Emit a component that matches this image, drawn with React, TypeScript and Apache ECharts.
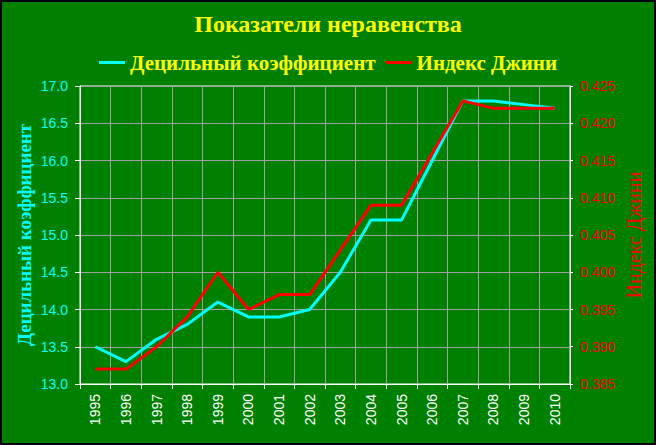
import React, { useEffect, useRef } from "react";
import * as echarts from "echarts";

const years = ["1995","1996","1997","1998","1999","2000","2001","2002","2003","2004","2005","2006","2007","2008","2009","2010"];
const decile = [13.5, 13.3, 13.6, 13.8, 14.1, 13.9, 13.9, 14.0, 14.5, 15.2, 15.2, 16.0, 16.8, 16.8, 16.75, 16.7];
const gini = [0.387, 0.387, 0.390, 0.394, 0.400, 0.395, 0.397, 0.397, 0.403, 0.409, 0.409, 0.416, 0.423, 0.422, 0.422, 0.422];

const titleText = "Показатели неравенства";
const decileName = "Децильный коэффициент";
const giniName = "Индекс Джини";

export default function App() {
  const ref = useRef<HTMLDivElement>(null);
  useEffect(() => {
    if (!ref.current) return;
    const chart = echarts.init(ref.current, undefined, { renderer: "svg" });
    const serif = "'Liberation Serif', 'DejaVu Serif', serif";
    const sans = "'Liberation Sans', Arial, sans-serif";
    chart.setOption({
      animation: false,
      backgroundColor: "#008000",
      title: {
        text: titleText,
        left: "center",
        top: 5,
        textStyle: { color: "#ffff00", fontFamily: serif, fontWeight: "bold", fontSize: 24 },
      },
      legend: {
        top: 45,
        left: "center",
        itemWidth: 26,
        itemHeight: 3,
        itemGap: 10,
        icon: "rect",
        textStyle: { color: "#ffff00", fontFamily: serif, fontWeight: "bold", fontSize: 21 },
        data: [
          { name: decileName, itemStyle: { color: "#00ffff" } },
          { name: giniName, itemStyle: { color: "#ff0000" } },
        ],
      },
      grid: {
        left: 78,
        right: 84,
        top: 84,
        bottom: 59,
        show: true,
        borderColor: "#ffffff",
        borderWidth: 1,
        backgroundColor: "transparent",
      },
      xAxis: {
        type: "category",
        data: years,
        boundaryGap: true,
        axisLine: { lineStyle: { color: "#ffffff", width: 1 } },
        axisTick: { show: true, length: 5, lineStyle: { color: "#ffffff" } },
        axisLabel: { color: "#ffffff", rotate: 90, fontFamily: sans, fontSize: 14, margin: 10 },
        splitLine: { show: true, lineStyle: { color: "#a0a0a0", width: 1 } },
      },
      yAxis: [
        {
          type: "value",
          min: 13,
          max: 17,
          interval: 0.5,
          position: "left",
          name: decileName,
          nameLocation: "middle",
          nameRotate: 90,
          nameGap: 46,
          nameMoveOverlap: false,
          nameTextStyle: { color: "#00ffff", fontFamily: serif, fontWeight: "bold", fontSize: 19 },
          axisLine: { show: true, lineStyle: { color: "#ffffff" } },
          axisTick: { show: true, length: 5, lineStyle: { color: "#ffffff" } },
          axisLabel: { color: "#00ffff", fontFamily: sans, fontSize: 14, margin: 12, formatter: (v: number) => v.toFixed(1) },
          splitLine: { show: true, lineStyle: { color: "#a0a0a0", width: 1 } },
        },
        {
          type: "value",
          min: 0.385,
          max: 0.425,
          interval: 0.005,
          position: "right",
          name: giniName,
          nameLocation: "middle",
          nameRotate: 90,
          nameGap: 54,
          nameMoveOverlap: false,
          nameTextStyle: { color: "#ff0000", fontFamily: serif, fontWeight: "normal", fontSize: 20 },
          axisLine: { show: true, lineStyle: { color: "#ffffff" } },
          axisTick: { show: true, length: 3, lineStyle: { color: "#ffffff" } },
          axisLabel: { color: "#ff0000", fontFamily: sans, fontSize: 14, margin: 10, formatter: (v: number) => v.toFixed(3) },
          splitLine: { show: false },
        },
      ],
      series: [
        {
          name: decileName,
          type: "line",
          yAxisIndex: 0,
          data: decile,
          symbol: "none",
          lineStyle: { color: "#00ffff", width: 3 },
          itemStyle: { color: "#00ffff" },
        },
        {
          name: giniName,
          type: "line",
          yAxisIndex: 1,
          data: gini,
          symbol: "none",
          lineStyle: { color: "#ff0000", width: 3 },
          itemStyle: { color: "#ff0000" },
        },
      ],
    });
    return () => chart.dispose();
  }, []);
  return (
    <div
      style={{
        position: "fixed",
        left: 0,
        top: 0,
        width: 656,
        height: 445,
        boxSizing: "border-box",
        border: "2px solid #000",
        background: "#008000",
      }}
    >
      <div ref={ref} style={{ width: 652, height: 441 }} />
    </div>
  );
}
